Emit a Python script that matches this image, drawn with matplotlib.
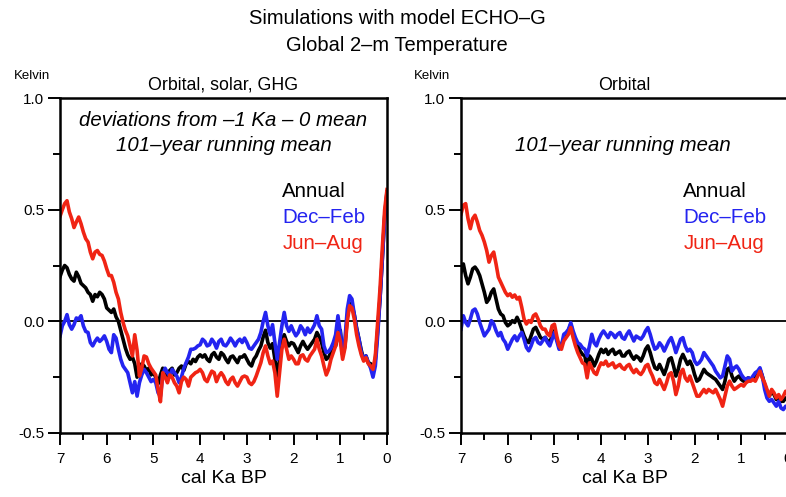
import numpy as np
import matplotlib
matplotlib.use("Agg")
import matplotlib.pyplot as plt
from matplotlib.ticker import MultipleLocator, FormatStrFormatter

# time axis, cal Ka BP, 7.00 -> 0.00 in 0.05 steps (141 points)
ka = np.round(np.arange(7.0, -0.001, -0.05), 2)

# --- Orbital, solar, GHG (deviations from -1 Ka - 0 mean) ---
full_annual = [
    0.20, 0.23, 0.25, 0.24, 0.21, 0.19, 0.18, 0.22, 0.20, 0.17,
    0.16, 0.15, 0.13, 0.12, 0.09, 0.12, 0.11, 0.13, 0.12, 0.10,
    0.06, 0.05, 0.04, 0.055, 0.02, 0.00, -0.04, -0.08, -0.12, -0.15,
    -0.17, -0.16, -0.19, -0.25, -0.21, -0.19, -0.20, -0.22, -0.21, -0.24,
    -0.23, -0.25, -0.28, -0.24, -0.21, -0.23, -0.25, -0.22, -0.21, -0.24,
    -0.23, -0.21, -0.20, -0.22, -0.19, -0.18, -0.19, -0.17, -0.18, -0.16,
    -0.15, -0.16, -0.15, -0.17, -0.18, -0.15, -0.14, -0.16, -0.17, -0.14,
    -0.15, -0.17, -0.185, -0.16, -0.155, -0.17, -0.185, -0.16, -0.16, -0.15,
    -0.17, -0.19, -0.20, -0.17, -0.155, -0.13, -0.11, -0.07, -0.04, -0.095,
    -0.12, -0.10, -0.17, -0.25, -0.17, -0.09, -0.06, -0.09, -0.11, -0.095,
    -0.10, -0.12, -0.14, -0.11, -0.09, -0.11, -0.125, -0.11, -0.095, -0.08,
    -0.05, -0.07, -0.095, -0.14, -0.17, -0.16, -0.14, -0.12, -0.11, -0.06,
    -0.04, -0.15, -0.11, 0.02, 0.08, 0.075, 0.03, -0.03, -0.08, -0.13,
    -0.17, -0.155, -0.185, -0.19, -0.225, -0.17, -0.04, 0.10, 0.28, 0.47, 0.58,
]
full_djf = [
    -0.066, -0.02, 0.0, 0.03, -0.015, -0.035, -0.015, 0.015, 0.01, 0.025,
    -0.02, -0.045, -0.05, -0.095, -0.11, -0.09, -0.075, -0.09, -0.08, -0.065,
    -0.09, -0.125, -0.14, -0.06, -0.075, -0.125, -0.17, -0.20, -0.215, -0.23,
    -0.275, -0.32, -0.27, -0.335, -0.275, -0.24, -0.215, -0.23, -0.25, -0.27,
    -0.26, -0.275, -0.32, -0.335, -0.24, -0.21, -0.23, -0.245, -0.215, -0.23,
    -0.245, -0.275, -0.25, -0.21, -0.185, -0.16, -0.125, -0.125, -0.12, -0.11,
    -0.105, -0.08, -0.09, -0.11, -0.105, -0.08, -0.095, -0.12, -0.09, -0.08,
    -0.105, -0.11, -0.095, -0.075, -0.09, -0.11, -0.09, -0.08, -0.095, -0.075,
    -0.095, -0.12, -0.125, -0.11, -0.095, -0.08, -0.05, 0.0, 0.04, -0.02,
    -0.06, -0.015, -0.095, -0.17, -0.095, -0.02, 0.04, -0.02, -0.045, -0.02,
    -0.045, -0.065, -0.05, -0.02, -0.035, -0.06, -0.03, -0.05, -0.035, -0.015,
    0.025, -0.02, -0.035, -0.11, -0.14, -0.135, -0.12, -0.095, -0.06, 0.025,
    -0.05, -0.14, -0.08, 0.055, 0.115, 0.10, 0.03, -0.035, -0.08, -0.14,
    -0.17, -0.155, -0.185, -0.21, -0.25, -0.20, -0.065, 0.10, 0.28, 0.46, 0.57,
]
full_jja = [
    0.47, 0.50, 0.527, 0.54, 0.49, 0.46, 0.42, 0.445, 0.467, 0.437,
    0.40, 0.37, 0.355, 0.31, 0.28, 0.31, 0.317, 0.30, 0.295, 0.27,
    0.235, 0.205, 0.205, 0.175, 0.13, 0.10, 0.04, -0.005, -0.04, -0.065,
    -0.11, -0.155, -0.06, -0.13, -0.245, -0.21, -0.155, -0.16, -0.19, -0.21,
    -0.225, -0.24, -0.305, -0.36, -0.23, -0.25, -0.275, -0.24, -0.25, -0.275,
    -0.29, -0.32, -0.27, -0.25, -0.26, -0.29, -0.25, -0.24, -0.23, -0.225,
    -0.215, -0.23, -0.26, -0.27, -0.245, -0.223, -0.23, -0.27, -0.245, -0.23,
    -0.245, -0.27, -0.283, -0.26, -0.25, -0.275, -0.29, -0.27, -0.25, -0.245,
    -0.25, -0.275, -0.283, -0.27, -0.245, -0.215, -0.185, -0.14, -0.11, -0.155,
    -0.19, -0.178, -0.23, -0.335, -0.23, -0.125, -0.08, -0.125, -0.17, -0.155,
    -0.17, -0.19, -0.19, -0.155, -0.15, -0.17, -0.178, -0.155, -0.14, -0.125,
    -0.08, -0.125, -0.155, -0.20, -0.24, -0.215, -0.17, -0.14, -0.11, -0.05,
    -0.09, -0.17, -0.12, 0.0, 0.07, 0.06, 0.01, -0.06, -0.11, -0.15,
    -0.178, -0.163, -0.19, -0.20, -0.215, -0.155, -0.006, 0.145, 0.33, 0.50, 0.59,
]

# --- Orbital only ---
orb_annual = [
    0.22, 0.257, 0.205, 0.168, 0.198, 0.235, 0.243, 0.228, 0.205, 0.168,
    0.13, 0.085, 0.10, 0.13, 0.145, 0.10, 0.055, 0.033, 0.025, -0.005,
    -0.02, -0.012, 0.003, -0.005, 0.018, -0.005, -0.035, -0.065, -0.087, -0.095,
    -0.065, -0.035, -0.027, -0.05, -0.072, -0.08, -0.072, -0.087, -0.095, -0.065,
    -0.042, -0.08, -0.11, -0.103, -0.08, -0.058, -0.043, -0.013, -0.058, -0.088,
    -0.11, -0.133, -0.148, -0.155, -0.208, -0.155, -0.17, -0.20, -0.178, -0.148,
    -0.125, -0.14, -0.125, -0.148, -0.133, -0.125, -0.148, -0.14, -0.133, -0.155,
    -0.155, -0.14, -0.133, -0.155, -0.17, -0.155, -0.163, -0.178, -0.155, -0.125,
    -0.11, -0.14, -0.178, -0.208, -0.215, -0.193, -0.215, -0.238, -0.208, -0.17,
    -0.163, -0.20, -0.245, -0.215, -0.17, -0.148, -0.17, -0.193, -0.178, -0.20,
    -0.238, -0.268, -0.26, -0.238, -0.215, -0.23, -0.238, -0.245, -0.253, -0.26,
    -0.275, -0.29, -0.305, -0.268, -0.215, -0.208, -0.245, -0.268, -0.253, -0.245,
    -0.26, -0.268, -0.26, -0.253, -0.26, -0.253, -0.245, -0.23, -0.215, -0.245,
    -0.283, -0.313, -0.335, -0.313, -0.328, -0.35, -0.335, -0.358, -0.358, -0.343, -0.35,
]
orb_djf = [
    -0.035, 0.025, -0.005, -0.02, 0.01, 0.048, 0.055, 0.033, -0.005, -0.035,
    -0.065, -0.05, -0.035, 0.003, -0.012, -0.042, -0.065, -0.05, -0.08, -0.095,
    -0.125, -0.102, -0.08, -0.065, -0.087, -0.065, -0.05, -0.08, -0.117, -0.132,
    -0.11, -0.08, -0.072, -0.095, -0.102, -0.087, -0.072, -0.095, -0.11, -0.08,
    -0.05, -0.088, -0.125, -0.11, -0.058, -0.05, -0.036, -0.006, -0.043, -0.073,
    -0.096, -0.103, -0.118, -0.125, -0.155, -0.11, -0.058, -0.096, -0.11, -0.08,
    -0.058, -0.043, -0.058, -0.073, -0.05, -0.058, -0.073, -0.058, -0.05, -0.073,
    -0.08, -0.058, -0.043, -0.066, -0.088, -0.066, -0.073, -0.08, -0.066, -0.043,
    -0.028, -0.058, -0.096, -0.125, -0.118, -0.096, -0.11, -0.133, -0.11, -0.088,
    -0.073, -0.103, -0.14, -0.11, -0.08, -0.073, -0.11, -0.133, -0.125, -0.14,
    -0.178, -0.193, -0.185, -0.17, -0.14, -0.155, -0.17, -0.185, -0.20, -0.223,
    -0.238, -0.253, -0.245, -0.20, -0.155, -0.17, -0.223, -0.208, -0.20, -0.215,
    -0.238, -0.253, -0.26, -0.253, -0.26, -0.245, -0.23, -0.223, -0.208, -0.245,
    -0.305, -0.343, -0.358, -0.35, -0.365, -0.38, -0.358, -0.388, -0.395, -0.38, -0.39,
]
orb_jja = [
    0.48, 0.52, 0.527, 0.46, 0.415, 0.46, 0.475, 0.445, 0.407, 0.385,
    0.355, 0.317, 0.265, 0.295, 0.31, 0.257, 0.198, 0.175, 0.153, 0.13,
    0.115, 0.123, 0.108, 0.118, 0.10, 0.108, 0.063, 0.01, -0.012, 0.003,
    -0.005, 0.025, 0.033, 0.01, -0.02, -0.035, -0.035, -0.057, -0.065, -0.02,
    -0.013, -0.066, -0.11, -0.125, -0.088, -0.073, -0.058, -0.028, -0.073, -0.11,
    -0.14, -0.163, -0.186, -0.193, -0.253, -0.186, -0.208, -0.23, -0.238, -0.208,
    -0.186, -0.193, -0.178, -0.20, -0.193, -0.186, -0.208, -0.20, -0.193, -0.208,
    -0.215, -0.20, -0.193, -0.215, -0.23, -0.215, -0.23, -0.238, -0.223, -0.20,
    -0.193, -0.223, -0.245, -0.275, -0.283, -0.26, -0.283, -0.305, -0.275, -0.238,
    -0.23, -0.268, -0.328, -0.29, -0.23, -0.215, -0.253, -0.268, -0.245, -0.275,
    -0.305, -0.335, -0.335, -0.32, -0.305, -0.32, -0.305, -0.313, -0.32, -0.305,
    -0.328, -0.35, -0.38, -0.335, -0.29, -0.268, -0.29, -0.305, -0.298, -0.29,
    -0.283, -0.29, -0.275, -0.268, -0.268, -0.26, -0.268, -0.245, -0.223, -0.253,
    -0.275, -0.305, -0.335, -0.305, -0.32, -0.343, -0.328, -0.35, -0.335, -0.313, -0.32,
]

panel_titles = ["Orbital, solar, GHG", "Orbital"]
season_labels = ["Annual", "Dec\u2013Feb", "Jun\u2013Aug"]
season_colors = ["black", "#2424f0", "#f02414"]

plt.rcParams['font.family'] = ['Liberation Sans', 'DejaVu Sans']

W, H = 786, 497
fig = plt.figure(figsize=(W / 100, H / 100), dpi=100)

def px_box(x0, x1, y0, y1):
    return [x0 / W, 1 - y1 / H, (x1 - x0) / W, (y1 - y0) / H]

ax_l = fig.add_axes(px_box(60, 387, 98, 433))
ax_r = fig.add_axes(px_box(461, 788, 98, 433))

series = [
    (full_annual, full_djf, full_jja),
    (orb_annual, orb_djf, orb_jja),
]

for ax, title, data in zip([ax_l, ax_r], panel_titles, series):
    ax.axhline(0, color='black', lw=1.3, zorder=1)
    for vals, c in zip(data, season_colors):
        ax.plot(ka, vals, color=c, lw=2.6, zorder=2)
    ax.set_xlim(7, 0)
    ax.set_ylim(-0.5, 1.0)
    ax.xaxis.set_major_locator(MultipleLocator(1))
    ax.xaxis.set_minor_locator(MultipleLocator(0.5))
    ax.yaxis.set_major_locator(MultipleLocator(0.5))
    ax.yaxis.set_minor_locator(MultipleLocator(0.25))
    ax.yaxis.set_major_formatter(FormatStrFormatter('%.1f'))
    ax.tick_params(which='major', direction='out', length=8.5, width=1.4,
                   labelsize=11, colors='black', pad=3)
    ax.tick_params(which='minor', direction='out', length=5, width=1.4)
    ax.tick_params(axis='x', which='major', pad=5)
    for s in ax.spines.values():
        s.set_linewidth(1.8)
    ax.set_title(title, fontsize=12.8, pad=6)
    ax.set_xlabel("cal Ka BP", fontsize=14, labelpad=3)
    for i, (lab, c) in enumerate(zip(season_labels, season_colors)):
        ax.text(0.68, 0.72 - i * 0.077, lab, color=c, fontsize=14.8,
                transform=ax.transAxes, va='center', ha='left')

ax_l.text(0.5, 0.934, "deviations from \u20131 Ka \u2013 0 mean", style='italic',
          fontsize=14.7, ha='center', va='center', transform=ax_l.transAxes)
ax_l.text(0.5, 0.857, "101\u2013year running mean", style='italic',
          fontsize=14.7, ha='center', va='center', transform=ax_l.transAxes)
ax_r.text(0.495, 0.857, "101\u2013year running mean", style='italic',
          fontsize=14.7, ha='center', va='center', transform=ax_r.transAxes)

for x in (32, 432):
    fig.text(x / W, 1 - 76 / H, "Kelvin", fontsize=9.5, ha='center', va='center')

fig.text(0.505, 1 - 18 / H, "Simulations with model ECHO\u2013G", fontsize=14.5,
         ha='center', va='center')
fig.text(0.505, 1 - 46 / H, "Global 2\u2013m Temperature", fontsize=14.5,
         ha='center', va='center')

fig.savefig("out.png", dpi=100)
